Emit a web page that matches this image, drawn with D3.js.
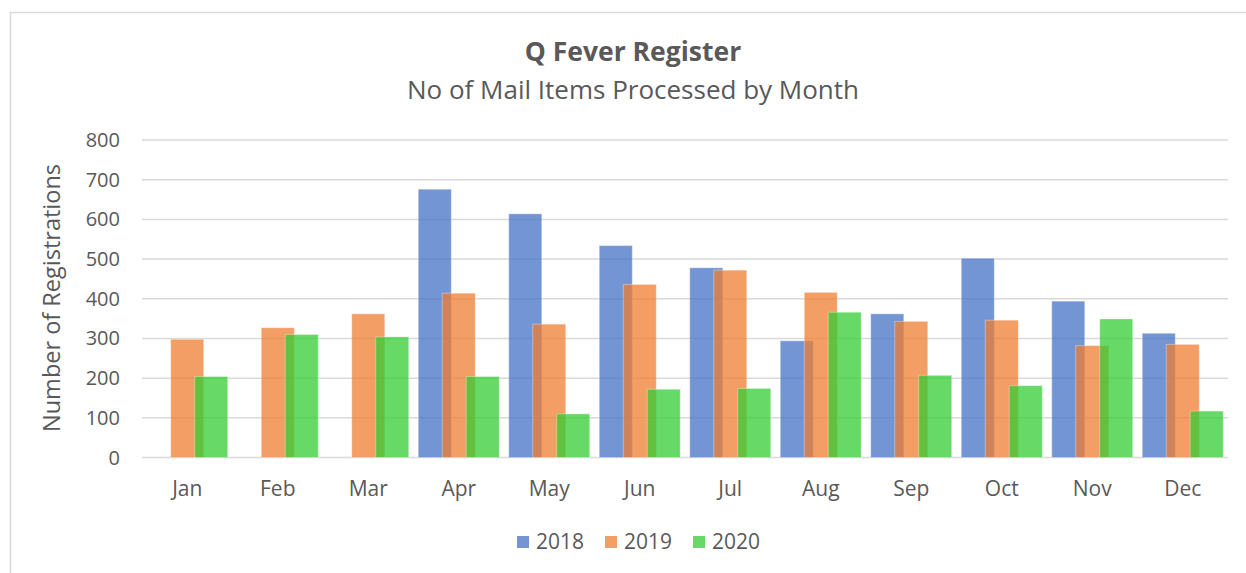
<!DOCTYPE html>
<html><head><meta charset="utf-8">
<script src="https://cdn.jsdelivr.net/npm/d3@7"></script>
<style>body{margin:0;background:#fff;} svg{display:block;} text{font-family:"Open Sans",Lato,sans-serif;fill:#595959;}</style>
</head><body><svg id="c" width="1246" height="573"></svg>
<script>
const months = ["Jan","Feb","Mar","Apr","May","Jun","Jul","Aug","Sep","Oct","Nov","Dec"];
const seriesNames = ["2018","2019","2020"];
const v2018 = [null,null,null,676,614,534,478,294,362,502,394,313];
const v2019 = [298,327,362,414,336,436,472,416,343,346,282,285];
const v2020 = [204,310,304,204,110,172,174,366,207,181,349,117];
const yTicks = [0,100,200,300,400,500,600,700,800];
const colors = ["#4472C4","#ED7D31","#33CC33"];

const series = [v2018, v2019, v2020];
const svg = d3.select("#c");
const m = {l:142, r:1228, t:140, b:457.5};

svg.append("rect").attr("x",10.5).attr("y",12.5).attr("width",1260).attr("height",600)
  .attr("fill","none").attr("stroke","#d9d9d9").attr("stroke-width",1.5);

const x = d3.scaleBand().domain(months).range([m.l, m.r]).paddingInner(0).paddingOuter(0);
const y = d3.scaleLinear().domain([0,800]).range([m.b, m.t]);

// gridlines
svg.append("g").selectAll("line").data(yTicks).join("line")
  .attr("x1",m.l).attr("x2",m.r).attr("y1",d=>y(d)).attr("y2",d=>y(d))
  .attr("stroke","#d9d9d9").attr("stroke-width",1.5);

// y tick labels
svg.append("g").selectAll("text").data(yTicks).join("text")
  .attr("x",120).attr("y",d=>y(d)).attr("dy","0.35em").attr("text-anchor","end")
  .style("font-size","20px").text(d=>d);

// bars
const bw = x.bandwidth()*0.365, step = x.bandwidth()*0.265;
series.forEach((vals,si)=>{
  svg.append("g").selectAll("rect").data(months.map((mo,i)=>({mo,v:vals[i]})).filter(d=>d.v!=null)).join("rect")
    .attr("x",d=>x(d.mo)+x.bandwidth()/2 - (bw+2*step)/2 + si*step)
    .attr("width",bw)
    .attr("y",d=>y(d.v)).attr("height",d=>y(0)-y(d.v))
    .attr("fill",colors[si]).attr("fill-opacity",0.75)
    .attr("stroke","#fff").attr("stroke-opacity",0.35).attr("stroke-width",1);
});

// x labels
svg.append("g").selectAll("text").data(months).join("text")
  .attr("x",d=>x(d)+x.bandwidth()/2).attr("y",489).attr("dy","0.35em")
  .attr("text-anchor","middle").style("font-size","21px").text(d=>d);

// titles
svg.append("text").attr("x",633).attr("y",52).attr("dy","0.35em").attr("text-anchor","middle")
  .style("font-size","26.5px").style("font-weight","bold").text("Q Fever Register");
svg.append("text").attr("x",633).attr("y",90).attr("dy","0.35em").attr("text-anchor","middle")
  .style("font-size","26px").text("No of Mail Items Processed by Month");
svg.append("text").attr("transform","translate(52,298) rotate(-90)").attr("dy","0.35em")
  .attr("text-anchor","middle").style("font-size","23.5px").text("Number of Registrations");

// legend
const lx = [517, 605, 693];
const lg = svg.append("g").selectAll("g").data(seriesNames).join("g")
  .attr("transform",(d,i)=>`translate(${lx[i]},542)`);
lg.append("rect").attr("x",0).attr("y",-6).attr("width",12).attr("height",12)
  .attr("fill",(d,i)=>colors[i]).attr("fill-opacity",0.75);
lg.append("text").attr("x",19).attr("y",0).attr("dy","0.35em").style("font-size","21px").text(d=>d);
</script></body></html>
